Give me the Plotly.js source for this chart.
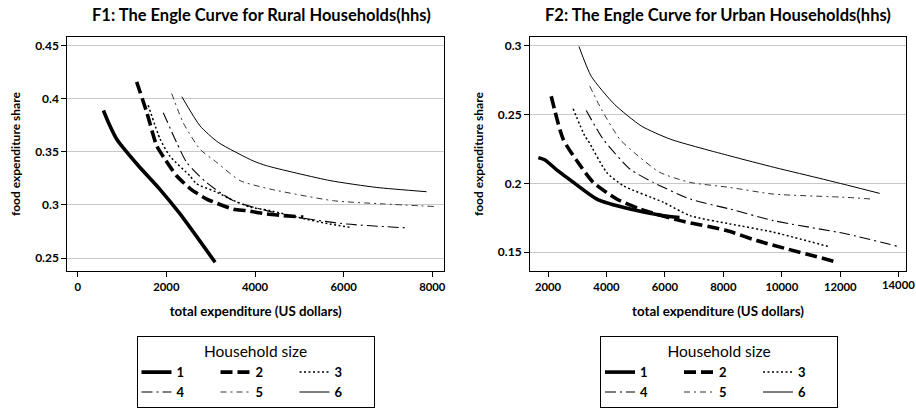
<!DOCTYPE html>
<html>
<head>
<meta charset="utf-8">
<script src="https://cdn.plot.ly/plotly-3.0.1.min.js"></script>
<style>html,body{margin:0;padding:0;background:#fff;}#chart{width:916px;height:408px;}</style>
</head>
<body>
<div id="chart"></div>
<script>
// ---------- data ----------
const sizeNames = ['1', '2', '3', '4', '5', '6'];

// Rural households (F1)
const r1x = [580, 700, 880, 1370, 1850, 2300, 3100];
const r1y = [0.389, 0.377, 0.362, 0.337, 0.315, 0.292, 0.246];
const r2x = [1330, 1560, 1780, 1970, 2230, 2550, 2910, 3510, 3810, 4260, 5090];
const r2y = [0.416, 0.387, 0.356, 0.343, 0.3275, 0.315, 0.3056, 0.296, 0.2946, 0.2915, 0.2885];
const r3x = [1590, 1860, 2080, 2530, 2680, 3140, 3440, 3890, 4340, 5000, 5690, 6140];
const r3y = [0.394, 0.362, 0.346, 0.3275, 0.320, 0.312, 0.3056, 0.298, 0.2947, 0.288, 0.282, 0.279];
const r4x = [1930, 2230, 2460, 2910, 3510, 4260, 5170, 6070, 7380];
const r4y = [0.387, 0.359, 0.340, 0.321, 0.304, 0.2947, 0.287, 0.282, 0.2785];
const r5x = [2120, 2380, 2760, 3140, 3660, 4340, 5770, 6900, 8060];
const r5y = [0.405, 0.3775, 0.3525, 0.340, 0.323, 0.315, 0.304, 0.301, 0.2985];
const r6x = [2350, 2760, 3170, 3960, 4260, 5690, 6750, 7870];
const r6y = [0.402, 0.3745, 0.359, 0.3415, 0.337, 0.323, 0.3165, 0.3125];

// Urban households (F2)
const u1x = [1670, 1900, 2340, 2870, 3670, 4810, 5950, 6500];
const u1y = [0.2187, 0.217, 0.209, 0.2007, 0.1886, 0.1813, 0.1765, 0.1752];
const u2x = [2110, 2520, 3030, 3550, 4350, 5150, 6520, 8110, 9140, 11880];
const u2y = [0.2633, 0.232, 0.2151, 0.2007, 0.1886, 0.1813, 0.1729, 0.1657, 0.1584, 0.1428];
const u3x = [2860, 3260, 3380, 4010, 4580, 5950, 6860, 8230, 9710, 11590];
const u3y = [0.2542, 0.2344, 0.2308, 0.2079, 0.1982, 0.1862, 0.1765, 0.1705, 0.1645, 0.1541];
const u4x = [3310, 3890, 4810, 5600, 6860, 8230, 9710, 12220, 13980];
const u4y = [0.253, 0.232, 0.2103, 0.2007, 0.1886, 0.1813, 0.1729, 0.1632, 0.1541];
const u5x = [3430, 3830, 4460, 5080, 5830, 6860, 8230, 9710, 12220, 13060];
const u5y = [0.2706, 0.2537, 0.232, 0.220, 0.2079, 0.2007, 0.197, 0.1922, 0.1898, 0.1886];
const u6x = [3060, 3480, 4280, 5200, 6200, 8230, 9760, 11420, 12330, 13350];
const u6y = [0.2995, 0.2778, 0.2573, 0.2416, 0.232, 0.2199, 0.2115, 0.203, 0.1982, 0.1927];

// tick labels
const ruralXTicks = [0, 2000, 4000, 6000, 8000];
const ruralXText = ['0', '2000', '4000', '6000', '8000'];
const ruralYTicks = [0.25, 0.3, 0.35, 0.4, 0.45];
const ruralYText = ['0.25', '0.3', '0.35', '0.4', '0.45'];
const urbanXTicks = [2000, 4000, 6000, 8000, 10000, 12000, 14000];
const urbanXText = ['2000', '4000', '6000', '8000', '10000', '12000', '14000'];
const urbanYTicks = [0.15, 0.2, 0.25, 0.3];
const urbanYText = ['0.15', '0.2', '0.25', '0.3'];

const titleLeft = 'F1: The Engle Curve for Rural Households(hhs)';
const titleRight = 'F2: The Engle Curve for Urban Households(hhs)';
const xTitle = 'total expenditure (US dollars)';
const yTitle = 'food expenditure share';
const legendTitle = 'Household size';

// ---------- styles ----------
const FONT = 'Lato, "Open Sans", sans-serif';
const lineStyles = [
  {color: '#000', width: 3.6, dash: 'solid'},
  {color: '#000', width: 3.6, dash: '12px,5px'},
  {color: '#000', width: 1.5, dash: '2px,2.5px'},
  {color: '#000', width: 1.1, dash: '11px,4px,2px,4px'},
  {color: '#333', width: 1.0, dash: '6px,4px,2px,4px'},
  {color: '#000', width: 1.0, dash: 'solid'}
];
const groups = ['c1', 'c2', 'c3', 'c1', 'c2', 'c3'];

const rural = [[r1x, r1y], [r2x, r2y], [r3x, r3y], [r4x, r4y], [r5x, r5y], [r6x, r6y]];
const urban = [[u1x, u1y], [u2x, u2y], [u3x, u3y], [u4x, u4y], [u5x, u5y], [u6x, u6y]];

const traces = [];
rural.forEach((s, i) => traces.push({
  x: s[0], y: s[1], type: 'scatter', mode: 'lines', name: sizeNames[i],
  line: Object.assign({shape: 'spline', smoothing: 0.6}, lineStyles[i]),
  xaxis: 'x2', yaxis: 'y2', legend: 'legend', legendgroup: 'r' + groups[i], hoverinfo: 'skip'
}));
urban.forEach((s, i) => traces.push({
  x: s[0], y: s[1], type: 'scatter', mode: 'lines', name: sizeNames[i],
  line: Object.assign({shape: 'spline', smoothing: 0.6}, lineStyles[i]),
  xaxis: 'x', yaxis: 'y', legend: 'legend2', legendgroup: 'u' + groups[i], hoverinfo: 'skip'
}));

const xTickFont = {family: FONT, size: 11.3, color: '#000', weight: 'bold'};
const yTickFont = {family: FONT, size: 12, color: '#000', weight: 'bold'};
const axTitleFont = {family: FONT, size: 13.3, color: '#000', weight: 'bold'};

function xAxis(domain, range, tv, tt, anchor) {
  return {
    domain: domain, range: range, anchor: anchor, tickvals: tv, ticktext: tt,
    showgrid: false, zeroline: false, showline: true, mirror: true,
    linecolor: '#000', linewidth: 1, ticks: 'outside', ticklen: 5, tickcolor: '#000',
    tickfont: xTickFont, automargin: false, ticklabeloverflow: 'allow',
    title: {text: xTitle, font: axTitleFont, standoff: 15}
  };
}
function yAxis(domain, range, tv, tt, anchor) {
  return {
    domain: domain, range: range, anchor: anchor, tickvals: tv, ticktext: tt,
    showgrid: true, gridcolor: '#c8c8c8', gridwidth: 1, zeroline: false, showline: true, mirror: true,
    linecolor: '#000', linewidth: 1, ticks: 'outside', ticklen: 5, tickcolor: '#000',
    tickfont: yTickFont, automargin: false, ticklabeloverflow: 'allow',
    title: {text: yTitle, font: {family: FONT, size: 12, color: '#000', weight: 'bold'}, standoff: 11}
  };
}
function legendOf(xc) {
  return {
    x: xc, xanchor: 'center', y: 1 - 338 / 408, yanchor: 'top',
    orientation: 'h', traceorder: 'grouped', entrywidth: 34,
    bordercolor: '#000', borderwidth: 1, bgcolor: '#fff',
    font: {family: FONT, size: 13, color: '#000', weight: 'bold'},
    title: {text: legendTitle, side: 'top center', font: {family: FONT, size: 15.5, color: '#000', weight: 'normal'}}
  };
}

// the last urban tick label sits at the page edge, where the axis drops it; it is drawn
// as an annotation placed on the x axis scale instead
const lastIdx = urbanXTicks.length - 1;
const urbanXTextAxis = urbanXText.map((t, i) => (i === lastIdx ? '' : t));

const W = 916, H = 408;
const layout = {
  width: W, height: H,
  margin: {l: 0, r: 0, t: 0, b: 0},
  paper_bgcolor: '#fff', plot_bgcolor: '#fff',
  font: {family: FONT, color: '#000'},
  xaxis2: xAxis([67.3 / W, 444 / W], [-235, 8264], ruralXTicks, ruralXText, 'y2'),
  yaxis2: yAxis([1 - 272.3 / H, 1 - 37.3 / H], [0.2378, 0.4582], ruralYTicks, ruralYText, 'x2'),
  xaxis: xAxis([530 / W, 906 / W], [1384, 14250], urbanXTicks, urbanXTextAxis, 'y'),
  yaxis: yAxis([1 - 272.3 / H, 1 - 37.3 / H], [0.1363, 0.3063], urbanYTicks, urbanYText, 'x'),
  legend: legendOf(255.5 / W),
  legend2: legendOf(719 / W),
  annotations: [
    {text: titleLeft, xref: 'paper', yref: 'paper', x: 261 / W, y: 1 - 15 / H, xanchor: 'center', yanchor: 'middle',
     showarrow: false, font: {family: FONT, size: 16.5, color: '#000', weight: 'bold'}},
    {text: titleRight, xref: 'paper', yref: 'paper', x: 718 / W, y: 1 - 15 / H, xanchor: 'center', yanchor: 'middle',
     showarrow: false, font: {family: FONT, size: 16.5, color: '#000', weight: 'bold'}},
    {text: urbanXText[lastIdx], xref: 'x', yref: 'paper', x: urbanXTicks[lastIdx], y: 1 - 286 / H,
     xanchor: 'center', yanchor: 'middle', showarrow: false, font: xTickFont}
  ],
  showlegend: true
};

Plotly.newPlot('chart', traces, layout, {staticPlot: true, displayModeBar: false});
</script>
</body>
</html>
